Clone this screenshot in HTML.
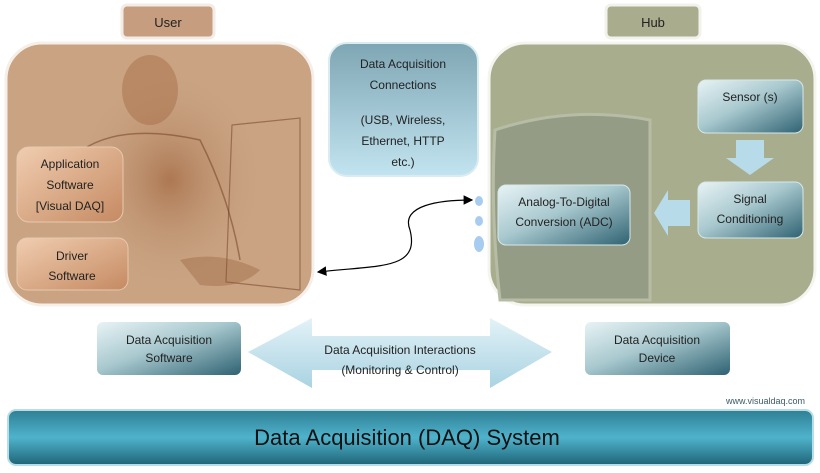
<!DOCTYPE html>
<html><head><meta charset="utf-8"><style>
html,body{margin:0;padding:0;background:#fff;}
svg{display:block;font-family:"Liberation Sans",sans-serif;}
</style></head><body>
<svg width="820" height="473" viewBox="0 0 820 473" xmlns="http://www.w3.org/2000/svg">
<defs>
<linearGradient id="blue" x1="0" y1="0" x2="0" y2="1"><stop offset="0" stop-color="#7fa6b4"/><stop offset="1" stop-color="#c2e4f0"/></linearGradient>
<linearGradient id="teal" x1="0" y1="0" x2="1" y2="1"><stop offset="0" stop-color="#e8f3f5"/><stop offset="0.45" stop-color="#a9c9cf"/><stop offset="1" stop-color="#2f6272"/></linearGradient>
<linearGradient id="bar" x1="0" y1="0" x2="0" y2="1"><stop offset="0" stop-color="#2e7f94"/><stop offset="0.5" stop-color="#4fb3cc"/><stop offset="1" stop-color="#1f6477"/></linearGradient>
<linearGradient id="brown" x1="0" y1="0" x2="1" y2="1"><stop offset="0" stop-color="#f0cdb0"/><stop offset="1" stop-color="#c58a62"/></linearGradient>
<linearGradient id="arrowg" x1="0" y1="0" x2="0" y2="1"><stop offset="0" stop-color="#e3f2f7"/><stop offset="1" stop-color="#a9d3e2"/></linearGradient>
<radialGradient id="man" cx="0.5" cy="0.5" r="0.5"><stop offset="0" stop-color="#9a5a32" stop-opacity="0.6"/><stop offset="1" stop-color="#c9a382" stop-opacity="0"/></radialGradient>
<marker id="ah" markerWidth="8" markerHeight="8" refX="7" refY="4" orient="auto"><path d="M0,0 L8,4 L0,8z" fill="#000"/></marker>
<marker id="at" markerWidth="8" markerHeight="8" refX="1" refY="4" orient="auto"><path d="M8,0 L0,4 L8,8z" fill="#000"/></marker>
</defs>

<!-- User -->
<rect x="122" y="5" width="92" height="33" rx="5" fill="#c69e7f" stroke="#f3ece6" stroke-width="3"/>
<text x="168" y="27" font-size="13" text-anchor="middle" fill="#222">User</text>
<rect x="6" y="43" width="307" height="262" rx="36" fill="#c9a382" stroke="#f5efe9" stroke-width="3"/>
<ellipse cx="170" cy="180" rx="95" ry="110" fill="url(#man)"/>
<ellipse cx="150" cy="90" rx="28" ry="35" fill="#9a5a32" opacity="0.35"/>
<path d="M70,160 Q110,120 200,140 Q230,200 240,260" fill="none" stroke="#6b3a1e" stroke-width="1.5" opacity="0.5"/>
<path d="M232,125 L300,118 L300,290 L226,282 Z" fill="none" stroke="#6b3a1e" stroke-width="1.2" opacity="0.5"/>
<path d="M180,260 Q220,250 260,270 Q240,290 200,285" fill="#8a4e2c" opacity="0.3"/>
<rect x="17" y="147" width="106" height="75" rx="12" fill="url(#brown)" stroke="#e8c9ae"/>
<text font-size="12" fill="#222" text-anchor="middle"><tspan x="70" y="168">Application</tspan><tspan x="70" y="189">Software</tspan><tspan x="70" y="210">[Visual DAQ]</tspan></text>
<rect x="17" y="238" width="111" height="52" rx="10" fill="url(#brown)" stroke="#e8c9ae"/>
<text font-size="12" fill="#222" text-anchor="middle"><tspan x="72" y="260">Driver</tspan><tspan x="72" y="280">Software</tspan></text>

<!-- Connections -->
<rect x="329" y="43" width="149" height="133" rx="18" fill="url(#blue)" stroke="#d8ecf2" stroke-width="2"/>
<text font-size="12" fill="#222" text-anchor="middle"><tspan x="403" y="68">Data Acquisition</tspan><tspan x="403" y="89">Connections</tspan><tspan x="403" y="124">(USB, Wireless,</tspan><tspan x="403" y="145">Ethernet, HTTP</tspan><tspan x="403" y="166">etc.)</tspan></text>
<path d="M318,272 C380,265 420,270 410,230 C400,205 440,200 472,200" fill="none" stroke="#000" stroke-width="1.2" marker-start="url(#at)" marker-end="url(#ah)"/>
<ellipse cx="479" cy="201" rx="4" ry="5" fill="#a8ccf0"/>
<ellipse cx="479" cy="221" rx="4" ry="5" fill="#a8ccf0"/>
<ellipse cx="479" cy="244" rx="5" ry="8" fill="#a8ccf0"/>

<!-- Hub -->
<rect x="606" y="5" width="94" height="33" rx="5" fill="#a9ac8d" stroke="#f2f2ec" stroke-width="3"/>
<text x="653" y="27" font-size="13" text-anchor="middle" fill="#222">Hub</text>
<rect x="489" y="43" width="326" height="262" rx="36" fill="#a8ad8e" stroke="#f5f5f0" stroke-width="3"/>
<path d="M495,130 Q570,105 650,120 L650,300 L500,300 Q490,210 495,130Z" fill="#949c86" stroke="#b7bca4" stroke-width="3"/>
<rect x="698" y="80" width="105" height="53" rx="8" fill="url(#teal)" stroke="#d5e8ea"/>
<text x="750" y="101" font-size="12" text-anchor="middle" fill="#222">Sensor (s)</text>
<polygon points="736,140 764,140 764,158 774,158 750,175 726,158 736,158" fill="#b7dbe8"/>
<rect x="698" y="182" width="105" height="56" rx="8" fill="url(#teal)" stroke="#d5e8ea"/>
<text font-size="12" fill="#222" text-anchor="middle"><tspan x="750" y="203">Signal</tspan><tspan x="750" y="223">Conditioning</tspan></text>
<polygon points="690,200 690,226 668,226 668,236 654,213 668,190 668,200" fill="#b7dbe8"/>
<rect x="498" y="185" width="132" height="60" rx="8" fill="url(#teal)" stroke="#d5e8ea"/>
<text font-size="12" fill="#222" text-anchor="middle"><tspan x="564" y="206">Analog-To-Digital</tspan><tspan x="564" y="226">Conversion (ADC)</tspan></text>

<!-- bottom -->
<rect x="97" y="322" width="144" height="53" rx="6" fill="url(#teal)"/>
<text font-size="12" fill="#222" text-anchor="middle"><tspan x="169" y="344">Data Acquisition</tspan><tspan x="169" y="362">Software</tspan></text>
<rect x="585" y="322" width="145" height="53" rx="6" fill="url(#teal)"/>
<text font-size="12" fill="#222" text-anchor="middle"><tspan x="657" y="344">Data Acquisition</tspan><tspan x="657" y="362">Device</tspan></text>
<polygon points="248,352 312,318 312,336 490,336 490,318 552,352 490,388 490,370 312,370 312,388" fill="url(#arrowg)"/>
<text font-size="12" fill="#222" text-anchor="middle"><tspan x="400" y="354">Data Acquisition Interactions</tspan><tspan x="400" y="374">(Monitoring &amp; Control)</tspan></text>
<text x="805" y="404" font-size="9" text-anchor="end" fill="#3a5a66">www.visualdaq.com</text>
<rect x="8" y="410" width="805" height="55" rx="8" fill="url(#bar)" stroke="#b8dde6" stroke-width="2"/>
<text x="407" y="445" font-size="22" text-anchor="middle" fill="#111">Data Acquisition (DAQ) System</text>
</svg>
</body></html>
